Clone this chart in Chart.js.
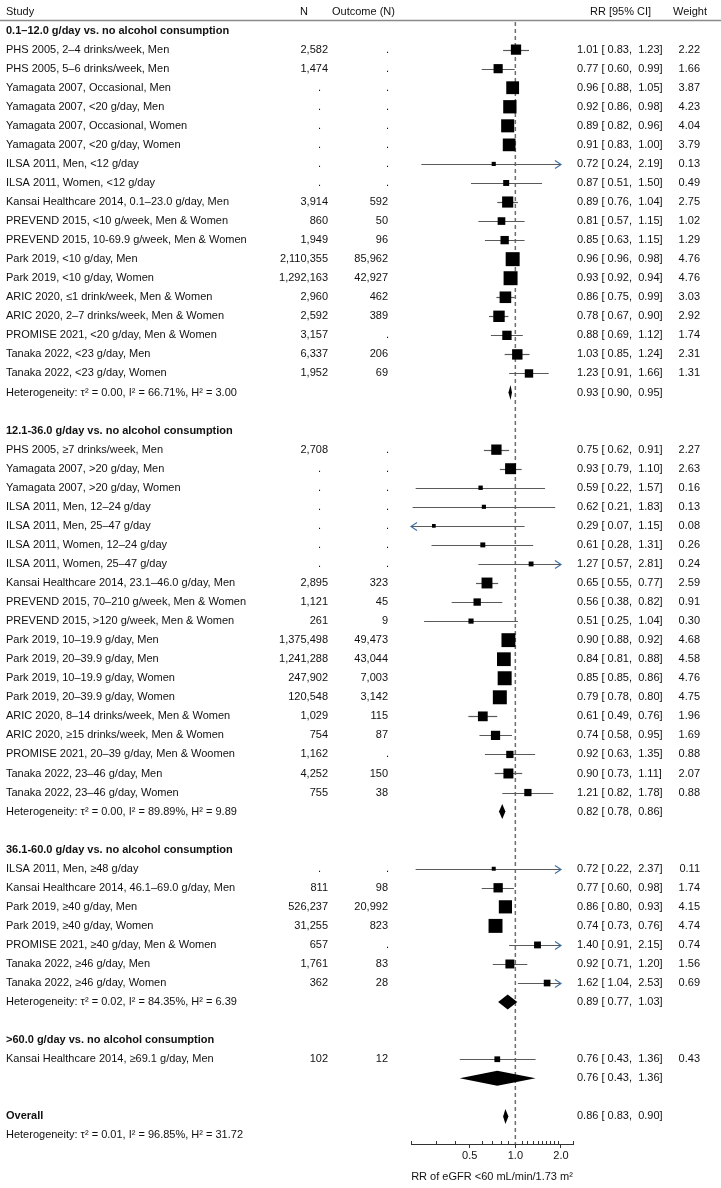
<!DOCTYPE html>
<html><head><meta charset="utf-8">
<script src="https://cdn.jsdelivr.net/npm/chart.js@4/dist/chart.umd.min.js"></script>
<style>html,body{margin:0;padding:0;background:#fff}#wrap{width:721px;height:1188px;position:relative}</style>
</head><body><div id="wrap"><canvas id="c"></canvas></div>
<script>
// ---------- DATA ----------
const groupTitles = [
  '0.1–12.0 g/day vs. no alcohol consumption',
  '12.1-36.0 g/day vs. no alcohol consumption',
  '36.1-60.0 g/day vs. no alcohol consumption',
  '>60.0 g/day vs. no alcohol consumption'
];
const groupSizes = [18, 19, 7, 1];
const groupHet = [
  'Heterogeneity: τ² = 0.00, I² = 66.71%, H² = 3.00',
  'Heterogeneity: τ² = 0.00, I² = 89.89%, H² = 9.89',
  'Heterogeneity: τ² = 0.02, I² = 84.35%, H² = 6.39',
  ''
];
const groupEst  = [0.93, 0.82, 0.89, 0.76];
const groupLow  = [0.90, 0.78, 0.77, 0.43];
const groupHigh = [0.95, 0.86, 1.03, 1.36];
const overallLabel = 'Overall';
const overallHet = 'Heterogeneity: τ² = 0.01, I² = 96.85%, H² = 31.72';
const overallEst = 0.86, overallLow = 0.83, overallHigh = 0.90;

const studyLabels = [
  'PHS 2005, 2–4 drinks/week, Men','PHS 2005, 5–6 drinks/week, Men','Yamagata 2007, Occasional, Men','Yamagata 2007, <20 g/day, Men',
  'Yamagata 2007, Occasional, Women','Yamagata 2007, <20 g/day, Women','ILSA 2011, Men, <12 g/day','ILSA 2011, Women, <12 g/day',
  'Kansai Healthcare 2014, 0.1–23.0 g/day, Men','PREVEND 2015, <10 g/week, Men & Women','PREVEND 2015, 10-69.9 g/week, Men & Women',
  'Park 2019, <10 g/day, Men','Park 2019, <10 g/day, Women','ARIC 2020, ≤1 drink/week, Men & Women','ARIC 2020, 2–7 drinks/week, Men & Women',
  'PROMISE 2021, <20 g/day, Men & Women','Tanaka 2022, <23 g/day, Men','Tanaka 2022, <23 g/day, Women',
  'PHS 2005, ≥7 drinks/week, Men','Yamagata 2007, >20 g/day, Men','Yamagata 2007, >20 g/day, Women','ILSA 2011, Men, 12–24 g/day',
  'ILSA 2011, Men, 25–47 g/day','ILSA 2011, Women, 12–24 g/day','ILSA 2011, Women, 25–47 g/day','Kansai Healthcare 2014, 23.1–46.0 g/day, Men',
  'PREVEND 2015, 70–210 g/week, Men & Women','PREVEND 2015, >120 g/week, Men & Women','Park 2019, 10–19.9 g/day, Men','Park 2019, 20–39.9 g/day, Men',
  'Park 2019, 10–19.9 g/day, Women','Park 2019, 20–39.9 g/day, Women','ARIC 2020, 8–14 drinks/week, Men & Women','ARIC 2020, ≥15 drinks/week, Men & Women',
  'PROMISE 2021, 20–39 g/day, Men & Woomen','Tanaka 2022, 23–46 g/day, Men','Tanaka 2022, 23–46 g/day, Women',
  'ILSA 2011, Men, ≥48 g/day','Kansai Healthcare 2014, 46.1–69.0 g/day, Men','Park 2019, ≥40 g/day, Men','Park 2019, ≥40 g/day, Women',
  'PROMISE 2021, ≥40 g/day, Men & Women','Tanaka 2022, ≥46 g/day, Men','Tanaka 2022, ≥46 g/day, Women',
  'Kansai Healthcare 2014, ≥69.1 g/day, Men'
];
const nCol = ['2,582','1,474','.','.','.','.','.','.','3,914','860','1,949','2,110,355','1,292,163','2,960','2,592','3,157','6,337','1,952',
  '2,708','.','.','.','.','.','.','2,895','1,121','261','1,375,498','1,241,288','247,902','120,548','1,029','754','1,162','4,252','755',
  '.','811','526,237','31,255','657','1,761','362',
  '102'];
const outcomeCol = ['.','.','.','.','.','.','.','.','592','50','96','85,962','42,927','462','389','.','206','69',
  '.','.','.','.','.','.','.','323','45','9','49,473','43,044','7,003','3,142','115','87','.','150','38',
  '.','98','20,992','823','.','83','28',
  '12'];
const rrEst  = [1.01,0.77,0.96,0.92,0.89,0.91,0.72,0.87,0.89,0.81,0.85,0.96,0.93,0.86,0.78,0.88,1.03,1.23,
  0.75,0.93,0.59,0.62,0.29,0.61,1.27,0.65,0.56,0.51,0.90,0.84,0.85,0.79,0.61,0.74,0.92,0.90,1.21,
  0.72,0.77,0.86,0.74,1.40,0.92,1.62,
  0.76];
const rrLow  = [0.83,0.60,0.88,0.86,0.82,0.83,0.24,0.51,0.76,0.57,0.63,0.96,0.92,0.75,0.67,0.69,0.85,0.91,
  0.62,0.79,0.22,0.21,0.07,0.28,0.57,0.55,0.38,0.25,0.88,0.81,0.85,0.78,0.49,0.58,0.63,0.73,0.82,
  0.22,0.60,0.80,0.73,0.91,0.71,1.04,
  0.43];
const rrHigh = [1.23,0.99,1.05,0.98,0.96,1.00,2.19,1.50,1.04,1.15,1.15,0.98,0.94,0.99,0.90,1.12,1.24,1.66,
  0.91,1.10,1.57,1.83,1.15,1.31,2.81,0.77,0.82,1.04,0.92,0.88,0.86,0.80,0.76,0.95,1.35,1.11,1.78,
  2.37,0.98,0.93,0.76,2.15,1.20,2.53,
  1.36];
const weightCol = [2.22,1.66,3.87,4.23,4.04,3.79,0.13,0.49,2.75,1.02,1.29,4.76,4.76,3.03,2.92,1.74,2.31,1.31,
  2.27,2.63,0.16,0.13,0.08,0.26,0.24,2.59,0.91,0.30,4.68,4.58,4.76,4.75,1.96,1.69,0.88,2.07,0.88,
  0.11,1.74,4.15,4.74,0.74,1.56,0.69,
  0.43];
const headers = ['Study','N','Outcome (N)','RR [95% CI]','Weight'];
const majorTicks = [0.5, 1, 2];
const tickLabels = ['0.5','1.0','2.0'];
const minorTicks = [0.3,0.4,0.6,0.7,0.8,0.9,1.1,1.2,1.3,1.4,1.5,1.6,1.7,1.8,1.9];
const axisTitle = 'RR of eGFR <60 mL/min/1.73 m²';

// ---------- ROW LAYOUT ----------
const rows = []; // {type, ...}
let r = 0, si = 0;
groupTitles.forEach((t, g) => {
  rows.push({type:'title', row:r++, text:t});
  for (let k = 0; k < groupSizes[g]; k++) rows.push({type:'study', row:r++, i:si++});
  rows.push({type:'summary', row:r++, text:groupHet[g], est:groupEst[g], lo:groupLow[g], hi:groupHigh[g]});
  r++;
});
rows.push({type:'overall', row:r++, text:overallLabel, est:overallEst, lo:overallLow, hi:overallHigh});
rows.push({type:'het', row:r++, text:overallHet});
const studyRows = rows.filter(o => o.type === 'study');

const fmt = v => v.toFixed(2);
const rrText = (e, l, h) => fmt(e) + ' [ ' + fmt(l) + ',  ' + fmt(h) + ']';
const side = w => 2.2 + 5.4 * Math.sqrt(w);

const FONT = '"Liberation Sans", Arial, Helvetica, sans-serif';
const CI_MIN = 0.205, CI_MAX = 2.0;

const forest = {
  id: 'forest',
  beforeDatasetsDraw(chart) {
    const {ctx, chartArea: ca, scales: {x, y}} = chart;
    ctx.save();
    // header line
    ctx.strokeStyle = '#8a8a8a'; ctx.lineWidth = 1.5;
    ctx.beginPath(); ctx.moveTo(0, 20.5); ctx.lineTo(721, 20.5); ctx.stroke();
    // reference line
    const x1 = x.getPixelForValue(1);
    ctx.strokeStyle = '#6e6e6e'; ctx.lineWidth = 1.5; ctx.setLineDash([4, 3]);
    ctx.beginPath(); ctx.moveTo(x1, ca.top); ctx.lineTo(x1, ca.bottom); ctx.stroke();
    ctx.setLineDash([]);
    // minor ticks
    ctx.strokeStyle = '#333'; ctx.lineWidth = 1;
    minorTicks.concat([x.min, x.max]).forEach(v => {
      const px = Math.round(x.getPixelForValue(v)) + 0.5;
      ctx.beginPath(); ctx.moveTo(px, ca.bottom); ctx.lineTo(px, ca.bottom - 3); ctx.stroke();
    });
    // CI lines
    studyRows.forEach(o => {
      const py = Math.round(y.getPixelForValue(o.row)) + 0.5;
      const lo = rrLow[o.i], hi = rrHigh[o.i];
      const xl = x.getPixelForValue(Math.max(lo, CI_MIN));
      const xh = x.getPixelForValue(Math.min(hi, CI_MAX));
      ctx.strokeStyle = '#5a5a5a'; ctx.lineWidth = 1.2;
      ctx.beginPath(); ctx.moveTo(xl, py); ctx.lineTo(xh, py); ctx.stroke();
      ctx.strokeStyle = '#3f72a3'; ctx.lineWidth = 1.2;
      if (hi > CI_MAX) {
        ctx.beginPath(); ctx.moveTo(xh - 6, py - 4); ctx.lineTo(xh, py); ctx.lineTo(xh - 6, py + 4); ctx.stroke();
      }
      if (lo < CI_MIN) {
        ctx.beginPath(); ctx.moveTo(xl + 6, py - 4); ctx.lineTo(xl, py); ctx.lineTo(xl + 6, py + 4); ctx.stroke();
      }
    });
    // diamonds
    ctx.fillStyle = '#000';
    rows.filter(o => o.type === 'summary' || o.type === 'overall').forEach(o => {
      const py = y.getPixelForValue(o.row);
      const xl = x.getPixelForValue(o.lo), xe = x.getPixelForValue(o.est), xh = x.getPixelForValue(o.hi);
      ctx.beginPath(); ctx.moveTo(xl, py); ctx.lineTo(xe, py - 7.5); ctx.lineTo(xh, py); ctx.lineTo(xe, py + 7.5); ctx.closePath(); ctx.fill();
    });
    ctx.restore();
  },
  afterDraw(chart) {
    const {ctx, scales: {y}} = chart;
    ctx.save();
    ctx.fillStyle = '#111'; ctx.textBaseline = 'middle';
    const norm = '11px ' + FONT, bold = 'bold 11px ' + FONT;
    const put = (t, px, py, align, f) => { ctx.font = f || norm; ctx.textAlign = align; ctx.fillText(t, px, py); };
    const hy = y.getPixelForValue(-1);
    put(headers[0], 6, hy, 'left'); put(headers[1], 300, hy, 'left'); put(headers[2], 332, hy, 'left');
    put(headers[3], 590, hy, 'left'); put(headers[4], 673, hy, 'left');
    rows.forEach(o => {
      const py = y.getPixelForValue(o.row);
      if (o.type === 'title') put(o.text, 6, py, 'left', bold);
      else if (o.type === 'study') {
        const i = o.i;
        put(studyLabels[i], 6, py, 'left');
        put(nCol[i], nCol[i] === '.' ? 321 : 328, py, 'right');
        put(outcomeCol[i], outcomeCol[i] === '.' ? 389 : 388, py, 'right');
        put(rrText(rrEst[i], rrLow[i], rrHigh[i]), 577, py, 'left');
        put(fmt(weightCol[i]), 700, py, 'right');
      } else if (o.type === 'summary') {
        if (o.text) put(o.text, 6, py, 'left');
        put(rrText(o.est, o.lo, o.hi), 577, py, 'left');
      } else if (o.type === 'overall') {
        put(o.text, 6, py, 'left', bold);
        put(rrText(o.est, o.lo, o.hi), 577, py, 'left');
      } else if (o.type === 'het') put(o.text, 6, py, 'left');
    });
    ctx.restore();
  }
};

new Chart(document.getElementById('c'), {
  type: 'scatter',
  data: {
    datasets: [{
      data: studyRows.map(o => ({x: rrEst[o.i], y: o.row})),
      pointStyle: 'rect',
      pointRadius: c => side(weightCol[studyRows[c.dataIndex].i]) / Math.SQRT2,
      backgroundColor: '#000', borderWidth: 0, clip: false
    }]
  },
  options: {
    responsive: true, maintainAspectRatio: false, animation: false, events: [],
    layout: {padding: {left: 411, right: 148, top: 22, bottom: 0}},
    plugins: {legend: {display: false}, tooltip: {enabled: false}},
    scales: {
      x: {
        type: 'logarithmic', min: 0.205, max: 2.4, position: 'bottom',
        afterBuildTicks: s => { s.ticks = majorTicks.map(v => ({value: v})); },
        afterFit: s => { s.height = 44; },
        ticks: {callback: (v, i) => tickLabels[i], autoSkip: false, maxRotation: 0, color: '#111', padding: 1, font: {size: 11, family: FONT}},
        grid: {drawOnChartArea: false, tickLength: 4, color: '#333'},
        border: {display: true, color: '#333', width: 1},
        title: {display: true, text: axisTitle, color: '#111', font: {size: 11, family: FONT}, padding: {top: 4, bottom: 4}}
      },
      y: {type: 'linear', reverse: true, min: -0.45, max: 58.45, display: false}
    }
  },
  plugins: [forest]
});
</script></body></html>
